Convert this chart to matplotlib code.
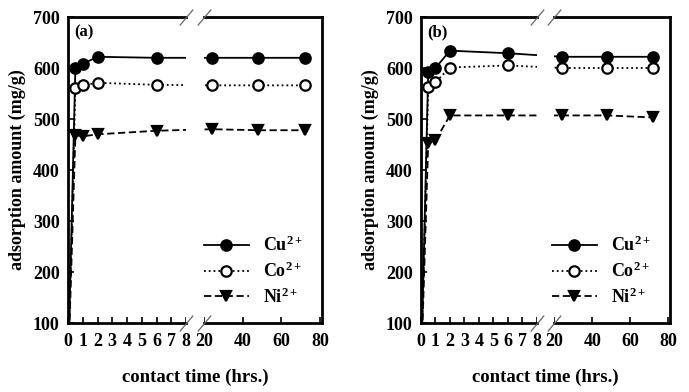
import numpy as np
import matplotlib
matplotlib.use("Agg")
import matplotlib.pyplot as plt
from matplotlib.scale import FuncScale

plt.rcParams['font.family'] = ['Liberation Serif', 'DejaVu Serif']
plt.rcParams['font.weight'] = 'bold'
plt.rcParams['mathtext.fontset'] = 'custom'
plt.rcParams['mathtext.rm'] = 'Liberation Serif'
plt.rcParams['mathtext.it'] = 'Liberation Serif:italic'
plt.rcParams['mathtext.bf'] = 'Liberation Serif:bold'

# contact time (hrs.)
hours = [0, 0.5, 1, 2, 6, 24, 48, 72]

# panel (a)
cu_a = [0, 600, 608, 622, 620, 620, 620, 620]
co_a = [0, 560, 566, 571, 567, 566, 566, 566]
ni_a = [0, 468, 466, 470, 477, 480, 478, 478]

# panel (b)
cu_b = [0, 592, 600, 634, 629, 622, 622, 622]
co_b = [0, 562, 572, 601, 605, 600, 600, 600]
ni_b = [0, 452, 458, 507, 507, 507, 507, 503]

ion_names = ["Cu$^{2+}$", "Co$^{2+}$", "Ni$^{2+}$"]
left_ticks = [0, 1, 2, 3, 4, 5, 6, 7, 8]
right_ticks = [20, 40, 60, 80]

# broken time axis: 0-8 h linear, gap, 20-80 h compressed
B1, B2 = 8.0, 20.0
R0 = 9.22
K = (17.08 - R0) / 60.0


def fwd(t):
    t = np.asarray(t, dtype=float)
    return np.where(t <= B1, t,
                    np.where(t >= B2, R0 + (t - B2) * K,
                             B1 + (t - B1) * (R0 - B1) / (B2 - B1)))


def inv(u):
    u = np.asarray(u, dtype=float)
    return np.where(u <= B1, u,
                    np.where(u >= R0, B2 + (u - R0) / K,
                             B1 + (u - B1) * (B2 - B1) / (R0 - B1)))


fig = plt.figure(figsize=(6.89, 3.92), dpi=100)
ax_a = fig.add_axes([0.0987, 0.176, 0.3687, 0.7806])
ax_b = fig.add_axes([0.611, 0.176, 0.3614, 0.7806])

styles = [dict(ls='-', marker='o', mfc='black', mec='black'),
          dict(ls=':', marker='o', mfc='white', mec='black'),
          dict(ls=(0, (4, 2)), marker='v', mfc='black', mec='black')]

for ax, data, tag in [(ax_a, [cu_a, co_a, ni_a], "(a)"),
                      (ax_b, [cu_b, co_b, ni_b], "(b)")]:
    ax.set_xscale(FuncScale(ax, (fwd, inv)))
    for vals, st, name in zip(data, styles, ion_names):
        ax.plot(hours, vals, color='black', lw=1.3, ms=7.5, mew=1.6,
                label=name, zorder=2, **st)
    # hide the data inside the axis break
    ax.axvspan(B1, B2, color='white', zorder=3, lw=0)

    ax.set_xlim(0, 81)
    ax.set_ylim(100, 700)
    ax.set_yticks(range(100, 701, 100))
    ax.set_xticks(left_ticks + right_ticks)
    ax.tick_params(direction='in', length=4, width=1.2, labelsize=13)
    ax.tick_params(axis='x', pad=7)
    ax.tick_params(axis='y', pad=6)
    for lab in ax.get_xticklabels() + ax.get_yticklabels():
        lab.set_fontweight('bold')

    for s in ['left', 'right']:
        ax.spines[s].set_linewidth(2.0)
    ax.spines['top'].set_visible(False)
    ax.spines['bottom'].set_visible(False)
    xt = ax.get_xaxis_transform()
    for y in (0, 1):
        ax.plot([0, B1], [y, y], transform=xt, color='black', lw=2.0,
                clip_on=False, zorder=5)
        ax.plot([B2, 81], [y, y], transform=xt, color='black', lw=2.0,
                clip_on=False, zorder=5)
        for xb in (B1, B2):
            ax.plot([xb], [y], transform=xt, marker=(2, 0, -40), ms=15,
                    mew=0.9, color='#666666', clip_on=False, zorder=6)

    ax.text(0.025, 0.975, tag, transform=ax.transAxes, ha='left', va='top',
            fontsize=12, fontweight='bold')
    ax.set_ylabel("adsorption amount (mg/g)", fontsize=13,
                  fontweight='bold', labelpad=5)
    ax.set_xlabel("contact time (hrs.)", fontsize=13.5, fontweight='bold',
                  labelpad=14)
    leg = ax.legend(loc='lower right', bbox_to_anchor=(0.99, 0.0),
                    frameon=False, fontsize=13, handlelength=2.5,
                    labelspacing=0.35, handletextpad=0.8)
    for t in leg.get_texts():
        t.set_fontweight('bold')

fig.savefig("out.png", dpi=100)
